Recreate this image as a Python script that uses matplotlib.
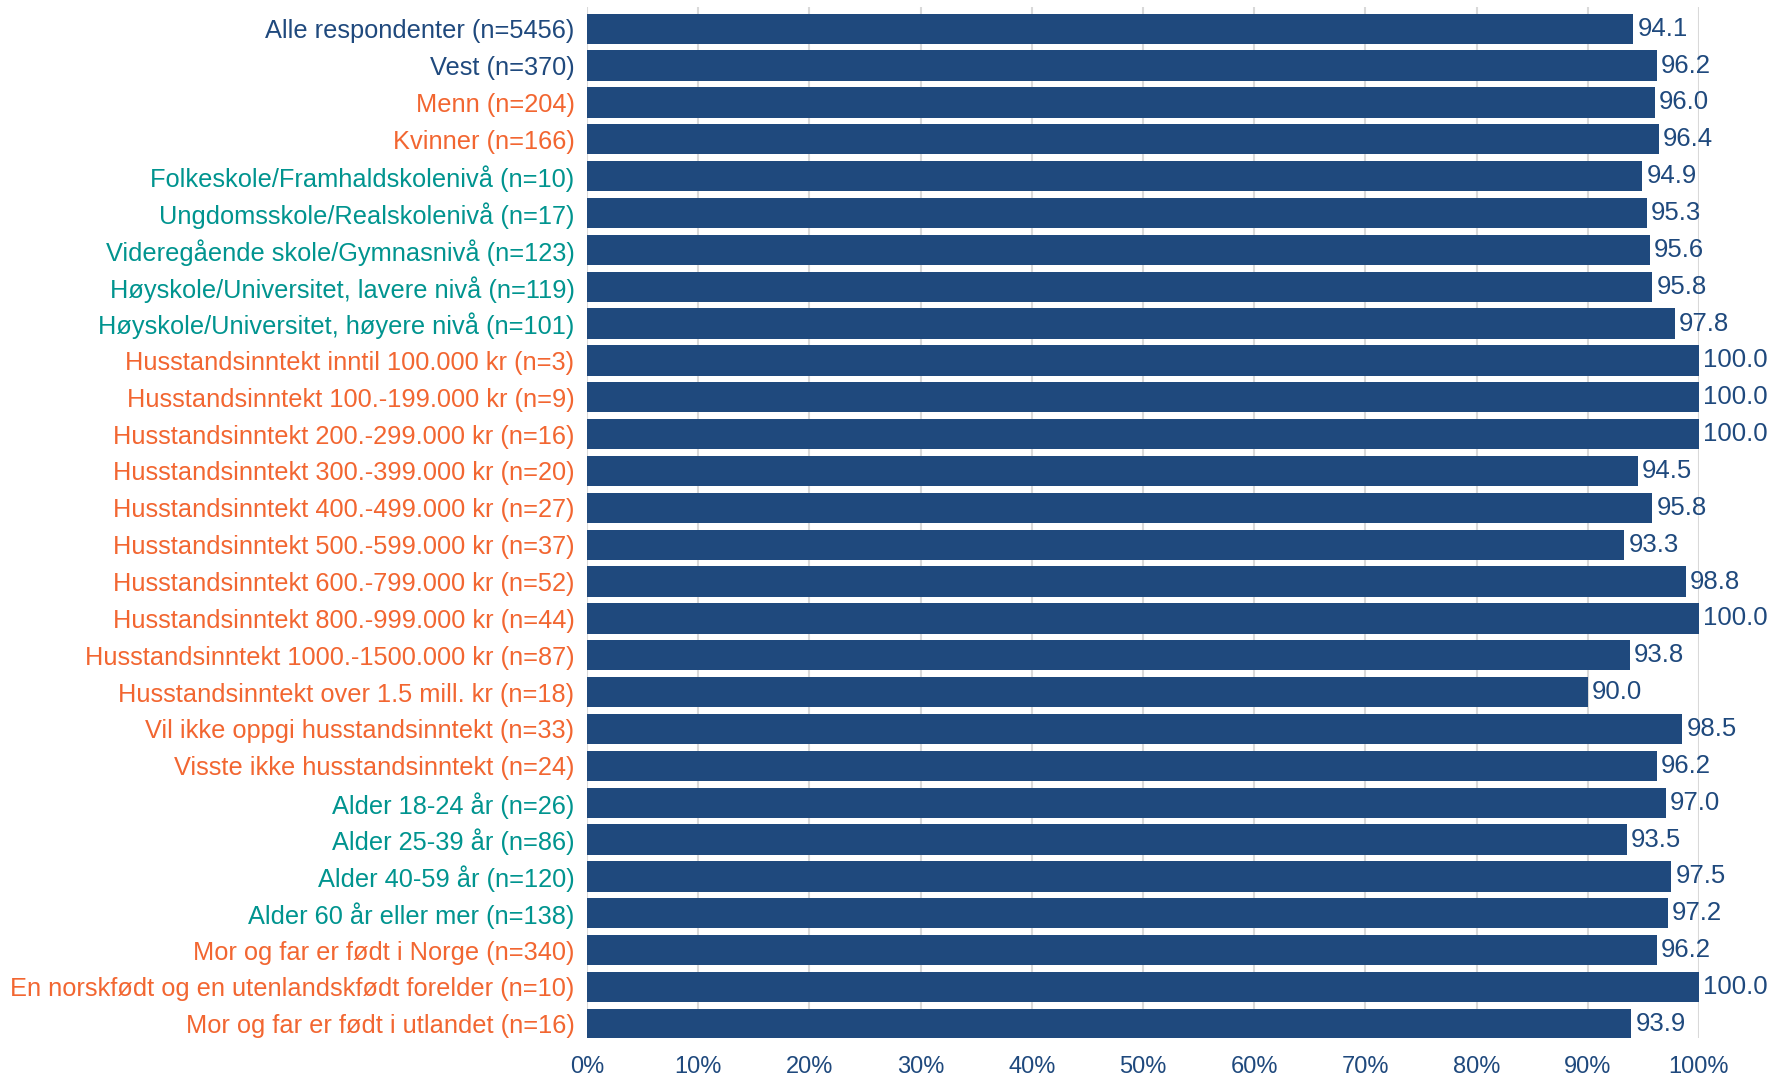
import matplotlib
matplotlib.use("Agg")
import matplotlib.pyplot as plt

BLUE = "#1f497d"
ORANGE = "#f26631"
TEAL = "#00948f"

categories = [
    "Alle respondenter (n=5456)",
    "Vest (n=370)",
    "Menn (n=204)",
    "Kvinner (n=166)",
    "Folkeskole/Framhaldskolenivå (n=10)",
    "Ungdomsskole/Realskolenivå (n=17)",
    "Videregående skole/Gymnasnivå (n=123)",
    "Høyskole/Universitet, lavere nivå (n=119)",
    "Høyskole/Universitet, høyere nivå (n=101)",
    "Husstandsinntekt inntil 100.000 kr (n=3)",
    "Husstandsinntekt 100.-199.000 kr (n=9)",
    "Husstandsinntekt 200.-299.000 kr (n=16)",
    "Husstandsinntekt 300.-399.000 kr (n=20)",
    "Husstandsinntekt 400.-499.000 kr (n=27)",
    "Husstandsinntekt 500.-599.000 kr (n=37)",
    "Husstandsinntekt 600.-799.000 kr (n=52)",
    "Husstandsinntekt 800.-999.000 kr (n=44)",
    "Husstandsinntekt 1000.-1500.000 kr (n=87)",
    "Husstandsinntekt over 1.5 mill. kr (n=18)",
    "Vil ikke oppgi husstandsinntekt (n=33)",
    "Visste ikke husstandsinntekt (n=24)",
    "Alder 18-24 år (n=26)",
    "Alder 25-39 år (n=86)",
    "Alder 40-59 år (n=120)",
    "Alder 60 år eller mer (n=138)",
    "Mor og far er født i Norge (n=340)",
    "En norskfødt og en utenlandskfødt forelder (n=10)",
    "Mor og far er født i utlandet (n=16)",
]

values = [
    94.1, 96.2, 96.0, 96.4, 94.9, 95.3, 95.6, 95.8, 97.8,
    100.0, 100.0, 100.0, 94.5, 95.8, 93.3, 98.8, 100.0, 93.8, 90.0,
    98.5, 96.2, 97.0, 93.5, 97.5, 97.2, 96.2, 100.0, 93.9,
]

# Label colour group for each category
groups = (["total"] * 2 + ["alt"] * 2 + ["main"] * 5 + ["alt"] * 12
          + ["main"] * 4 + ["alt"] * 3)
group_colors = {"total": BLUE, "alt": ORANGE, "main": TEAL}

x_ticks = [0, 10, 20, 30, 40, 50, 60, 70, 80, 90, 100]

plt.rcParams["font.family"] = ["Liberation Sans", "DejaVu Sans"]

W, H = 1773, 1079
fig = plt.figure(figsize=(W / 100, H / 100), dpi=100)
left, right, top, bottom = 587, 1699, 7, 1038
ax = fig.add_axes([left / W, 1 - bottom / H, (right - left) / W, (bottom - top) / H])

n = len(categories)
pos = list(range(n))
ax.barh(pos, values, height=0.82, color=BLUE, zorder=3)

for y, v in zip(pos, values):
    ax.annotate(f"{v:.1f}", xy=(v, y), xytext=(3, 0), textcoords="offset points",
                va="center", ha="left", fontsize=18.5, color=BLUE, clip_on=False)

ax.set_xlim(0, 100)
ax.set_ylim(n - 1 + 0.385, -0.59)
ax.set_yticks(pos)
ax.set_yticklabels(categories, fontsize=18.3)
for lbl, g in zip(ax.get_yticklabels(), groups):
    lbl.set_color(group_colors[g])

ax.set_xticks(x_ticks)
ax.set_xticklabels([f"{t}%" for t in x_ticks], fontsize=17, color=BLUE)
ax.tick_params(axis="both", length=0)
ax.tick_params(axis="y", pad=9)
ax.tick_params(axis="x", pad=13)

for s in ax.spines.values():
    s.set_visible(False)
ax.xaxis.grid(True, color="#d9d9d9", linewidth=1.5, zorder=0)
ax.set_axisbelow(True)

fig.savefig("out.png", dpi=100)
